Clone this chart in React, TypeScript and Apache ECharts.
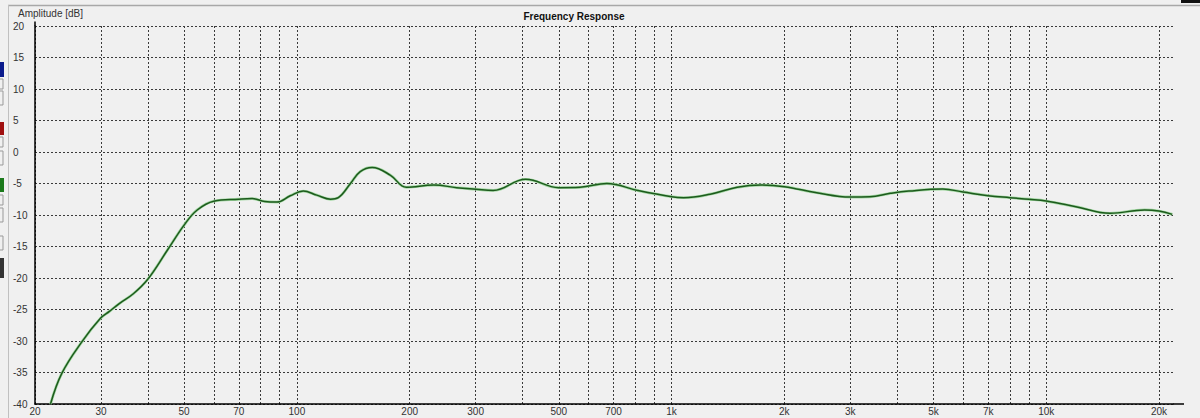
import React, { useEffect, useRef } from 'react';
import * as echarts from 'echarts';

// frequency response (Hz, dB)
const freqHz = [
  22, 23.6, 26.7, 29.9, 31.6, 33.5, 36.6, 40, 45.1, 50, 54.2, 60, 70, 76, 82, 88.5, 96,
  104, 113, 123, 129, 139, 147.6, 158.8, 177.8, 196, 232, 267, 300, 334, 408, 500, 570,
  672, 812, 1000, 1077, 1268, 1497, 1732, 2000, 2440, 3000, 3385, 3834, 4300, 5300,
  6000, 7000, 8000, 9000, 10000, 12000, 14800, 18300, 20000, 21700,
];
const ampDb = [
  -40, -35.1, -30.1, -26.4, -25.3, -24.1, -22.5, -20.2, -15.6, -11.6, -9.2, -7.8, -7.5,
  -7.4, -7.85, -7.95, -6.95, -6.2, -6.85, -7.5, -7.25, -5.0, -3.1, -2.45, -3.7, -5.6,
  -5.24, -5.66, -5.9, -6.1, -4.33, -5.66, -5.6, -5.0, -6.1, -7.1, -7.25, -6.7, -5.6,
  -5.24, -5.5, -6.46, -7.14, -7.1, -6.56, -6.2, -5.88, -6.35, -6.93, -7.25, -7.5,
  -7.78, -8.68, -9.73, -9.2, -9.37, -9.9,
];

// grid lines and labels on the frequency axis
const gridFreqs = [
  20, 30, 40, 50, 60, 70, 80, 90, 100, 200, 300, 400, 500, 600, 700, 800, 900, 1000,
  2000, 3000, 4000, 5000, 6000, 7000, 8000, 9000, 10000, 20000,
];
const labelFreqs = [
  20, 30, 50, 70, 100, 200, 300, 500, 700, 1000, 2000, 3000, 5000, 7000, 10000, 20000,
];
const freqMin = 20;
const freqMax = 21800;
const dbMin = -40;
const dbMax = 20;
const dbStep = 5;

const font = '"Liberation Sans", Arial, sans-serif';

const fmtFreq = (v: number) => {
  const f = Math.round(Math.pow(10, v));
  return f >= 1000 ? `${f / 1000}k` : String(f);
};

export default function App() {
  const chartRef = useRef<HTMLDivElement>(null);

  useEffect(() => {
    if (!chartRef.current) return;
    const chart = echarts.init(chartRef.current, null, { renderer: 'svg' });

    const gridStyle = { color: '#3a3a3a', width: 1, type: [2, 2] as number[] };
    const points = freqHz.map((f, i) => [Math.log10(f), ampDb[i]]);

    chart.setOption({
      animation: false,
      backgroundColor: '#f0f0f0',
      textStyle: { fontFamily: font },
      grid: { left: 35, right: 27, top: 26, bottom: 14, containLabel: false },
      xAxis: {
        type: 'value',
        min: Math.log10(freqMin),
        max: Math.log10(freqMax),
        axisLine: { show: true, onZero: false, lineStyle: { color: '#000', width: 1.5 } },
        axisTick: { show: false, customValues: gridFreqs.map((f) => Math.log10(f)) },
        splitLine: { show: true, lineStyle: gridStyle },
        axisLabel: {
          customValues: labelFreqs.map((f) => Math.log10(f)),
          formatter: fmtFreq,
          color: '#333',
          fontSize: 10,
          margin: 2,
          hideOverlap: false,
        },
      },
      yAxis: {
        type: 'value',
        min: dbMin,
        max: dbMax,
        interval: dbStep,
        axisLine: { show: true, onZero: false, lineStyle: { color: '#000', width: 1.5 } },
        axisTick: { show: false },
        splitLine: { show: true, lineStyle: gridStyle },
        axisLabel: { color: '#333', fontSize: 10, margin: 22, align: 'left' },
      },
      graphic: [
        // window chrome
        { type: 'line', shape: { x1: 8, y1: 5.5, x2: 1200, y2: 5.5 }, style: { stroke: '#a8a8a8', lineWidth: 1.5 } },
        { type: 'line', shape: { x1: 8.5, y1: 5, x2: 8.5, y2: 418 }, style: { stroke: '#c0c0c0', lineWidth: 1 } },
        { type: 'rect', shape: { x: 1181, y: 0, width: 19, height: 3 }, style: { fill: '#111' } },
        { type: 'rect', shape: { x: 0, y: 62, width: 4, height: 15 }, style: { fill: '#0a1a8c' } },
        { type: 'rect', shape: { x: -2, y: 79, width: 5, height: 10 }, style: { fill: 'none', stroke: '#999' } },
        { type: 'rect', shape: { x: -2, y: 91, width: 5, height: 14 }, style: { fill: 'none', stroke: '#999' } },
        { type: 'rect', shape: { x: 0, y: 122, width: 4, height: 13 }, style: { fill: '#a01010' } },
        { type: 'rect', shape: { x: -2, y: 137, width: 5, height: 10 }, style: { fill: 'none', stroke: '#999' } },
        { type: 'rect', shape: { x: -2, y: 151, width: 5, height: 14 }, style: { fill: 'none', stroke: '#999' } },
        { type: 'rect', shape: { x: 0, y: 178, width: 4, height: 14 }, style: { fill: '#1b7a1b' } },
        { type: 'rect', shape: { x: -2, y: 195, width: 5, height: 10 }, style: { fill: 'none', stroke: '#999' } },
        { type: 'rect', shape: { x: -2, y: 208, width: 5, height: 14 }, style: { fill: 'none', stroke: '#999' } },
        { type: 'rect', shape: { x: -2, y: 236, width: 5, height: 14 }, style: { fill: 'none', stroke: '#999' } },
        { type: 'rect', shape: { x: 0, y: 258, width: 4, height: 20 }, style: { fill: '#333' } },
        // axis line overhangs
        { type: 'line', shape: { x1: 1173, y1: 404, x2: 1184, y2: 404 }, style: { stroke: '#000', lineWidth: 1.5 } },
        { type: 'line', shape: { x1: 35, y1: 21.5, x2: 35, y2: 26 }, style: { stroke: '#000', lineWidth: 1.5 } },
        {
          type: 'text',
          x: 18,
          y: 13,
          style: { text: 'Amplitude [dB]', fill: '#333', fontSize: 10, fontFamily: font, verticalAlign: 'middle' },
        },
        {
          type: 'text',
          x: 574,
          y: 16.5,
          style: {
            text: 'Frequency Response',
            fill: '#111',
            fontSize: 10,
            fontWeight: 'bold',
            fontFamily: font,
            align: 'center',
            verticalAlign: 'middle',
          },
        },
      ],
      series: [
        {
          type: 'line',
          name: 'halo',
          smooth: 0.4,
          symbol: 'none',
          silent: true,
          lineStyle: { color: '#a2d8a2', width: 2.8 },
          data: points,
        },
        {
          type: 'line',
          name: 'Amplitude',
          smooth: 0.4,
          symbol: 'none',
          lineStyle: { color: '#1d5a1d', width: 1.5 },
          data: points,
        },
      ],
    });

    return () => chart.dispose();
  }, []);

  return (
    <div style={{ position: 'fixed', left: 0, top: 0, width: 1200, height: 418 }}>
      <div ref={chartRef} style={{ width: '100%', height: '100%' }} />
    </div>
  );
}
